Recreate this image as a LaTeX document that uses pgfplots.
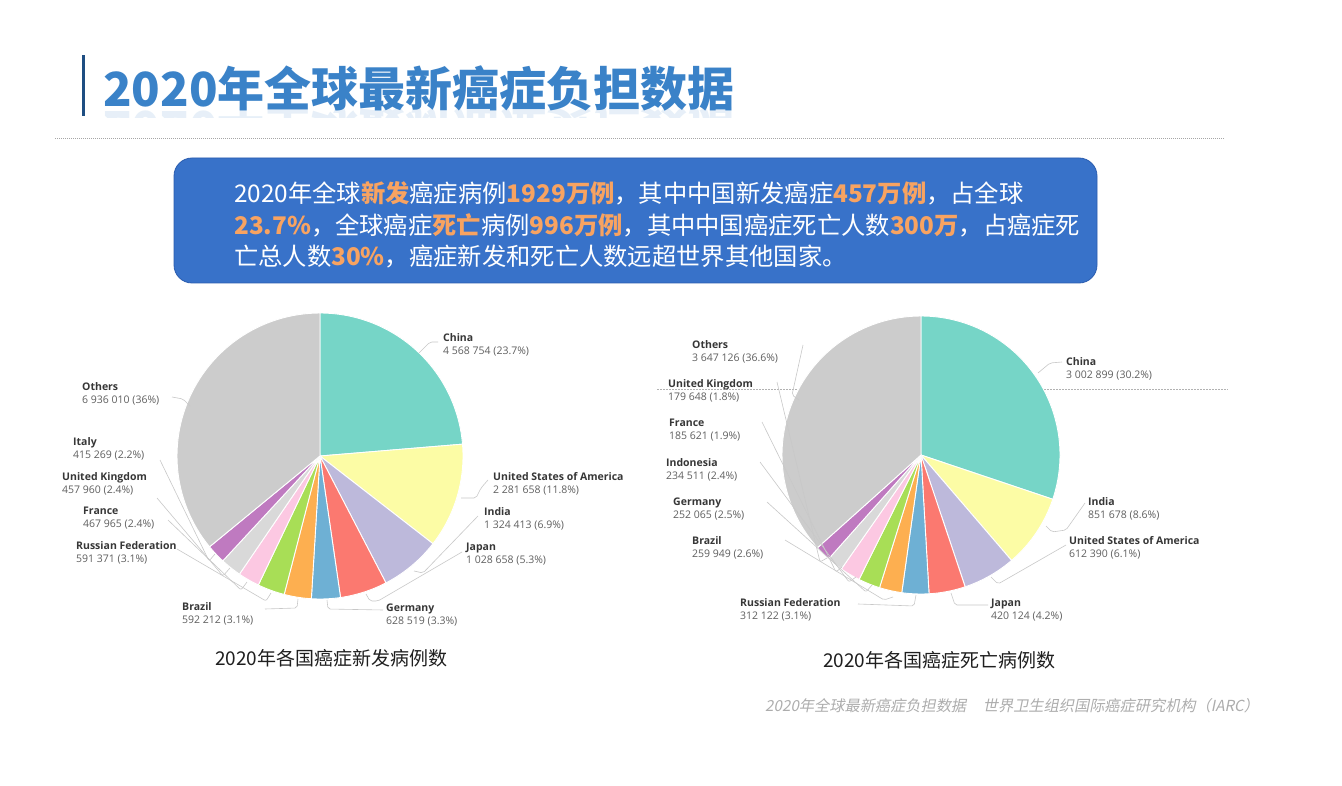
\documentclass[border=0pt]{standalone}
\usepackage{pgfplots}
\usepackage{pgfplotstable}
\pgfplotsset{compat=1.18}
\usepackage{fontspec}
\setmainfont{Open Sans}
\newfontfamily\cjk{Noto Sans CJK SC}
\newfontfamily\cjkit{Noto Sans CJK SC}[FakeSlant=0.2]
\newfontfamily\labfont{Open Sans}

\definecolor{c0}{RGB}{118,213,199}
\definecolor{c1}{RGB}{252,252,165}
\definecolor{c2}{RGB}{189,185,219}
\definecolor{c3}{RGB}{251,121,112}
\definecolor{c4}{RGB}{110,176,212}
\definecolor{c5}{RGB}{253,175,80}
\definecolor{c6}{RGB}{168,222,86}
\definecolor{c7}{RGB}{252,200,226}
\definecolor{c8}{RGB}{217,217,217}
\definecolor{c9}{RGB}{191,122,192}
\definecolor{c10}{RGB}{204,204,204}
\definecolor{boxblue}{RGB}{56,114,201}
\definecolor{boxedge}{RGB}{42,92,175}
\definecolor{hl}{RGB}{248,163,97}
\definecolor{titleblue}{RGB}{58,130,200}
\definecolor{barblue}{RGB}{30,78,130}
\definecolor{labdark}{RGB}{55,55,55}
\definecolor{labgray}{RGB}{95,95,95}
\definecolor{leadc}{RGB}{200,200,200}
\tikzset{leader/.style={draw=leadc, line width=0.6pt, rounded corners=2pt}}

% new cancer cases 2020 (clockwise from top)
\pgfplotstableread{
v
4568754
2281658
1324413
1028658
628519
592212
591371
467965
457960
415269
6936010
}\incid
% cancer deaths 2020 (clockwise from top)
\pgfplotstableread{
v
3002899
851678
612390
420124
312122
259949
252065
234511
185621
179648
3647126
}\mort

\newcommand\pieangles[2]{%
  \begingroup
  \pgfkeys{/pgf/fpu=true,/pgf/fpu/output format=fixed}%
  \gdef\pietot{0}%
  \pgfplotstableforeachcolumnelement{v}\of#1\as\cell{%
    \pgfmathparse{\pietot+\cell}\xdef\pietot{\pgfmathresult}}%
  \gdef\piecum{0}%
  \pgfplotstableforeachcolumnelement{v}\of#1\as\cell{%
    \pgfmathparse{-90+360*\piecum/\pietot}%
    \expandafter\xdef\csname #2s\pgfplotstablerow\endcsname{\pgfmathresult}%
    \pgfmathparse{\piecum+\cell}\xdef\piecum{\pgfmathresult}%
    \pgfmathparse{-90+360*\piecum/\pietot}%
    \expandafter\xdef\csname #2e\pgfplotstablerow\endcsname{\pgfmathresult}}%
  \endgroup}
\pieangles{\incid}{L}%
\pieangles{\mort}{R}%

\newcommand\hlt[1]{{\color{hl}\bfseries #1}}
\newcommand\plab[4]{\node[anchor=west,align=left,inner sep=0pt,font=\labfont\fontsize{10.5}{12.6}\selectfont] at (axis cs:#1,#2) {{\bfseries\color{labdark}#3}\\{\color{labgray}#4}};}

\begin{document}%
\begin{tikzpicture}
\begin{axis}[
  scale only axis, width=1342pt, height=786pt,
  xmin=0, xmax=1342, ymin=0, ymax=786, y dir=reverse,
  hide axis, clip=false,
]
\fill[white] (axis cs:0,0) rectangle (axis cs:1342,786);
\coordinate (BBa) at (axis cs:0,0);
\coordinate (BBb) at (axis cs:1342,786);

% header
\fill[barblue] (axis cs:81.5,55) rectangle (axis cs:85,116);
\begin{scope}
\clip (axis cs:95,104) rectangle (axis cs:760,118);
\node[anchor=west, inner sep=0pt, yscale=-1, opacity=0.12, font=\cjk\bfseries\fontsize{47}{50}\selectfont, text=titleblue] at (axis cs:103,130) {2020年全球最新癌症负担数据};
\end{scope}
\node[anchor=west, inner sep=0pt, font=\cjk\bfseries\fontsize{47}{50}\selectfont, text=titleblue] at (axis cs:103,88) {2020年全球最新癌症负担数据};
\draw[gray!70, dash pattern=on 1pt off 1pt, line width=0.6pt] (axis cs:55,138) -- (axis cs:1225,138);

% blue box
\draw[fill=boxblue, draw=boxedge, line width=0.8pt, rounded corners=18pt] (axis cs:174,158) rectangle (axis cs:1097,283);
\begin{scope}[every node/.style={anchor=west, inner sep=0pt, text=white, font=\cjk\fontsize{24.3}{28}\selectfont}]
\node at (axis cs:234,193) {2020年全球\hlt{新发}癌症病例\hlt{1929万例}，其中中国新发癌症\hlt{457万例}，占全球};
\node at (axis cs:234,225) {\hlt{23.7\%}，全球癌症\hlt{死亡}病例\hlt{996万例}，其中中国癌症死亡人数\hlt{300万}，占癌症死};
\node at (axis cs:234,256) {亡总人数\hlt{30\%}，癌症新发和死亡人数远超世界其他国家。};
\end{scope}

% right dotted line (behind pie)
\draw[gray!60, dash pattern=on 1.5pt off 1.5pt, line width=0.6pt] (axis cs:657,389) -- (axis cs:1228,389);

% ---- left pie: new cases ----
\pgfplotsinvokeforeach{0,...,10}{%
  \edef\doslice{\noexpand\addplot[fill=c#1, draw=white, line width=0.9pt, domain=\csname Ls#1\endcsname:\csname Le#1\endcsname, samples=60, variable=\noexpand\t]}%
  \doslice ({320+143*cos(\t)},{456+143*sin(\t)}) -- (axis cs:320,456) -- cycle;
}
% ---- right pie: deaths ----
\pgfplotsinvokeforeach{0,...,10}{%
  \edef\doslice{\noexpand\addplot[fill=c#1, draw=white, line width=0.9pt, domain=\csname Rs#1\endcsname:\csname Re#1\endcsname, samples=60, variable=\noexpand\t]}%
  \doslice ({921+139*cos(\t)},{455+139*sin(\t)}) -- (axis cs:921,455) -- cycle;
}

% leaders left
\draw[leader] (axis cs:438,342) -- (axis cs:430,342) -- (axis cs:419,353);
\draw[leader] (axis cs:488,480) -- (axis cs:481,488) -- (axis cs:476,498) -- (axis cs:461,498);
\draw[leader] (axis cs:478,516) -- (axis cs:423,573) -- (axis cs:414,571);
\draw[leader] (axis cs:462,552) -- (axis cs:378,601) -- (axis cs:370,601) -- (axis cs:366,594);
\draw[leader] (axis cs:383,610) -- (axis cs:328,609) -- (axis cs:327,600);
\draw[leader] (axis cs:265,609) -- (axis cs:297,608) -- (axis cs:298,599);
\draw[leader] (axis cs:177,549) -- (axis cs:266,601) -- (axis cs:271,593);
\draw[leader] (axis cs:168,520) -- (axis cs:241,590) -- (axis cs:247,582);
\draw[leader] (axis cs:157,498) -- (axis cs:223,576) -- (axis cs:230,568);
\draw[leader] (axis cs:160,460) -- (axis cs:209,561) -- (axis cs:215,554);
\draw[leader] (axis cs:172,397) -- (axis cs:183,399) -- (axis cs:190,406);

% leaders right
\draw[leader] (axis cs:1062,362) -- (axis cs:1050,363) -- (axis cs:1038,373);
\draw[leader] (axis cs:1085,503) -- (axis cs:1066,530) -- (axis cs:1052,532) -- (axis cs:1046,526);
\draw[leader] (axis cs:1066,545) -- (axis cs:998,584) -- (axis cs:991,577);
\draw[leader] (axis cs:988,605) -- (axis cs:955,605) -- (axis cs:951,593);
\draw[leader] (axis cs:858,604) -- (axis cs:914,606) -- (axis cs:916,595);
\draw[leader] (axis cs:785,540) -- (axis cs:884,600) -- (axis cs:893,597);
\draw[leader] (axis cs:767,502) -- (axis cs:866,592) -- (axis cs:872,585);
\draw[leader] (axis cs:760,462) -- (axis cs:849,582) -- (axis cs:856,577);
\draw[leader] (axis cs:762,422) -- (axis cs:836,572) -- (axis cs:842,567);
\draw[leader] (axis cs:777,382) -- (axis cs:820,562) -- (axis cs:827,558);
\draw[leader] (axis cs:803,345) -- (axis cs:792,395) -- (axis cs:799,400);

% labels left
\plab{443}{345}{China}{4 568 754 (23.7\%)}
\plab{493}{484}{United States of America}{2 281 658 (11.8\%)}
\plab{484}{519}{India}{1 324 413 (6.9\%)}
\plab{466}{554}{Japan}{1 028 658 (5.3\%)}
\plab{386}{615}{Germany}{628 519 (3.3\%)}
\plab{182}{614}{Brazil}{592 212 (3.1\%)}
\plab{76}{553}{Russian Federation}{591 371 (3.1\%)}
\plab{83}{518}{France}{467 965 (2.4\%)}
\plab{62}{484}{United Kingdom}{457 960 (2.4\%)}
\plab{73}{449}{Italy}{415 269 (2.2\%)}
\plab{82}{394}{Others}{6 936 010 (36\%)}

% labels right
\plab{1066}{369}{China}{3 002 899 (30.2\%)}
\plab{1088}{509}{India}{851 678 (8.6\%)}
\plab{1069}{548}{United States of America}{612 390 (6.1\%)}
\plab{991}{610}{Japan}{420 124 (4.2\%)}
\plab{740}{610}{Russian Federation}{312 122 (3.1\%)}
\plab{692}{548}{Brazil}{259 949 (2.6\%)}
\plab{673}{509}{Germany}{252 065 (2.5\%)}
\plab{666}{470}{Indonesia}{234 511 (2.4\%)}
\plab{669}{430}{France}{185 621 (1.9\%)}
\plab{668}{391}{United Kingdom}{179 648 (1.8\%)}
\plab{692}{352}{Others}{3 647 126 (36.6\%)}

% captions
\node[anchor=west, inner sep=0pt, text=black!88, font=\cjk\fontsize{19}{22}\selectfont] at (axis cs:215,658) {2020年各国癌症新发病例数};
\node[anchor=west, inner sep=0pt, text=black!88, font=\cjk\fontsize{19}{22}\selectfont] at (axis cs:823,660) {2020年各国癌症死亡病例数};
\node[anchor=west, inner sep=0pt, text=black!32, font=\cjkit\fontsize{15.2}{17}\selectfont] at (axis cs:765,706) {2020年全球最新癌症负担数据\hspace{1.1em}世界卫生组织国际癌症研究机构（IARC）};
\end{axis}
\pgfresetboundingbox
\path[use as bounding box] (BBa) rectangle (BBb);
\end{tikzpicture}%
\end{document}
